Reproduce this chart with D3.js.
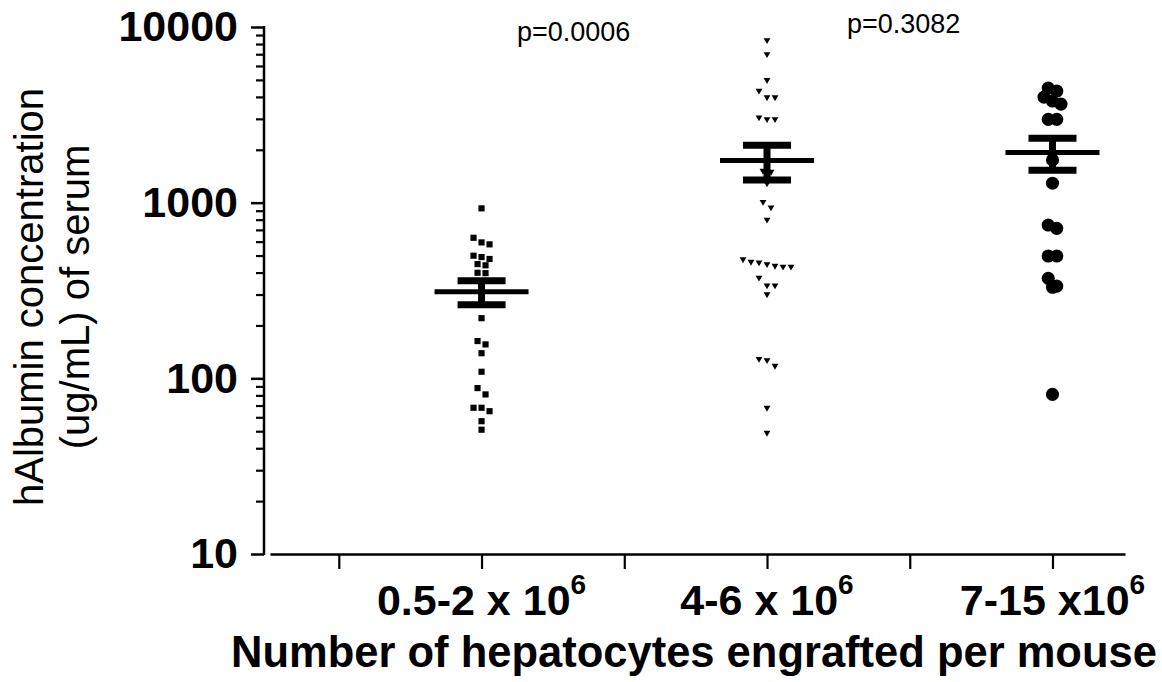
<!DOCTYPE html>
<html>
<head>
<meta charset="utf-8">
<script src="https://cdn.jsdelivr.net/npm/d3@7"></script>
<style>
  body { margin: 0; background: #fff; }
  svg { display: block; font-family: "Liberation Sans", Arial, sans-serif; }
</style>
</head>
<body>
<div id="chart"></div>
<script>
const chartWidth = 1162
const chartHeight = 682

// categories (tick label + superscript)
const groupLabels = ['0.5-2 x 10', '4-6 x 10', '7-15 x10']
const groupSup = ['6', '6', '6']
const groupSymbols = ['square', 'triangle', 'circle']

// hAlbumin values per mouse (ug/mL)
const lowDose = [928, 631, 594, 579, 499, 490, 478, 447, 440, 399, 397, 318, 220, 163, 156, 139,
  109, 88, 81, 68, 68, 65, 57, 51]
const midDose = [8420, 7010, 4990, 4340, 3980, 3980, 3060, 2990, 2990, 1520, 1500, 1290, 1010, 940,
  800, 476, 461, 457, 447, 437, 432, 432, 374, 338, 338, 301, 129, 127, 118, 68, 49]
const highDose = [4490, 4320, 3990, 3790, 3640, 2980, 2980, 1750, 1290, 746, 714, 497, 497, 371,
  335, 330, 81]
const seriesValues = [lowDose, midDose, highDose]

const pValues = ['p=0.0006', 'p=0.3082']

const yMajorTicks = [10, 100, 1000, 10000]

let xScale = d3.scaleLinear()
  .domain([0.259, 3.254])
  .range([270, 1125])

let yScale = d3.scaleLog()
  .domain([10, 10000])
  .range([554, 27])

const svg = d3.select('#chart').append('svg')
  .attr('width', chartWidth)
  .attr('height', chartHeight)

svg.append('rect').attr('width', chartWidth).attr('height', chartHeight).attr('fill', '#fff')

// y axis, major + minor ticks
const yMinor = []
for (let d = 10; d < 10000; d *= 10) {
  for (let k = 2; k <= 9; k++) yMinor.push(d * k)
}

const yAxisG = svg.append('g')
  .attr('transform', 'translate(264,0)')
  .call(d3.axisLeft(yScale).tickValues(yMajorTicks).tickSize(13).tickPadding(13)
    .tickFormat(d3.format('d')))
yAxisG.select('.domain').remove()
yAxisG.selectAll('line').attr('stroke', '#000').attr('stroke-width', 2.5)
yAxisG.selectAll('text')
  .attr('fill', '#000')
  .style('font-size', '43px')
  .style('font-weight', 700)

const yMinorG = svg.append('g')
  .attr('transform', 'translate(264,0)')
  .call(d3.axisLeft(yScale).tickValues(yMinor).tickSize(8).tickFormat(''))
yMinorG.select('.domain').remove()
yMinorG.selectAll('line').attr('stroke', '#000').attr('stroke-width', 2.2)

svg.append('line')
  .attr('x1', 264).attr('x2', 264)
  .attr('y1', yScale(10000) - 1).attr('y2', yScale(10) + 1)
  .attr('stroke', '#000').attr('stroke-width', 2.5)

// x axis (ticks at group centres and between groups)
const xAxisG = svg.append('g')
  .attr('transform', 'translate(0,' + yScale(10) + ')')
  .call(d3.axisBottom(xScale).tickValues([0.5, 1, 1.5, 2, 2.5, 3]).tickSize(15).tickSizeOuter(0)
    .tickFormat(''))
xAxisG.select('.domain').attr('stroke', '#000').attr('stroke-width', 2.5)
xAxisG.selectAll('line').attr('stroke', '#000').attr('stroke-width', 2.2)

groupLabels.forEach((lab, i) => {
  const t = svg.append('text')
    .attr('x', xScale(i + 1))
    .attr('y', 615)
    .attr('text-anchor', 'middle')
    .style('font-size', '43px')
    .style('font-weight', 700)
  t.append('tspan').text(lab)
  t.append('tspan').attr('dy', -21).style('font-size', '28px').text(groupSup[i])
})

// axis titles
svg.append('text')
  .attr('x', 694)
  .attr('y', 667)
  .attr('text-anchor', 'middle')
  .style('font-size', '43.5px')
  .style('font-weight', 700)
  .text('Number of hepatocytes engrafted per mouse')

svg.append('text')
  .attr('transform', 'translate(43,297) rotate(-90)')
  .attr('text-anchor', 'middle')
  .style('font-size', '40px')
  .text('hAlbumin concentration')

svg.append('text')
  .attr('transform', 'translate(89,297) rotate(-90)')
  .attr('text-anchor', 'middle')
  .style('font-size', '40px')
  .text('(ug/mL) of serum')

// p-values
svg.append('text').attr('x', 517).attr('y', 41).style('font-size', '27px').text(pValues[0])
svg.append('text').attr('x', 847).attr('y', 33).style('font-size', '27px').text(pValues[1])

// scatter: points in rows, each row centred on the group (like a column scatter)
function arrange(values, step, gap) {
  const pts = values.map(v => ({ v: v, y: yScale(v) })).sort((a, b) => a.y - b.y)
  const rows = []
  let cur = null
  pts.forEach(p => {
    if (cur && p.y - cur[0].y < gap) cur.push(p)
    else { cur = [p]; rows.push(cur) }
  })
  rows.forEach(r => r.forEach((p, i) => { p.dx = (i - (r.length - 1) / 2) * step }))
  return pts
}

const symbolGen = {
  square: d3.symbol().type(d3.symbolSquare).size(38),
  triangle: d3.symbol().type(d3.symbolTriangle).size(20),
  circle: d3.symbol().type(d3.symbolCircle).size(135)
}
const symbolStep = { square: 8, triangle: 8, circle: 8.5 }

seriesValues.forEach((vals, i) => {
  const kind = groupSymbols[i]
  const cx = xScale(i + 1)
  const pts = arrange(vals, symbolStep[kind], 8)

  svg.append('g')
    .selectAll('path')
    .data(pts)
    .enter().append('path')
    .attr('d', symbolGen[kind])
    .attr('transform', d => 'translate(' + (cx + d.dx) + ',' + d.y + ')' + (kind === 'triangle' ? ' rotate(180)' : ''))
    .attr('fill', '#000')

  // mean +/- SEM
  const mean = d3.mean(vals)
  const sem = d3.deviation(vals) / Math.sqrt(vals.length)
  const g = svg.append('g').attr('stroke', '#000')
  g.append('line')
    .attr('x1', cx).attr('x2', cx)
    .attr('y1', yScale(mean + sem)).attr('y2', yScale(mean - sem))
    .attr('stroke-width', 7)
  g.append('line')
    .attr('x1', cx - 47).attr('x2', cx + 47)
    .attr('y1', yScale(mean)).attr('y2', yScale(mean))
    .attr('stroke-width', 5)
  ;[mean + sem, mean - sem].forEach(v => {
    g.append('line')
      .attr('x1', cx - 24).attr('x2', cx + 24)
      .attr('y1', yScale(v)).attr('y2', yScale(v))
      .attr('stroke-width', 7)
  })
})
</script>
</body>
</html>
